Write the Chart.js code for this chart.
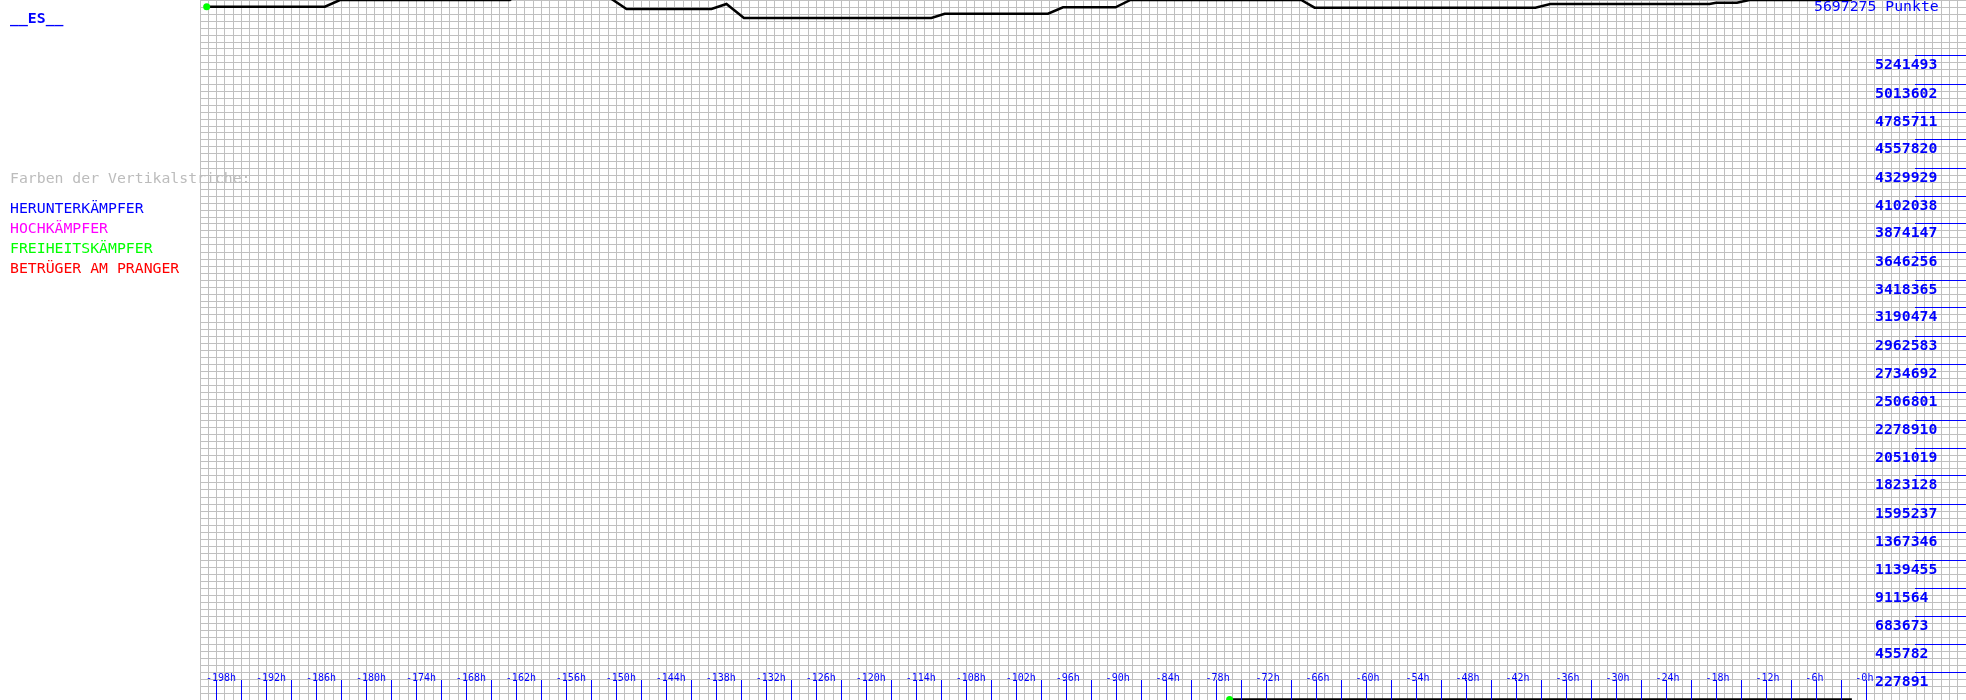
<!DOCTYPE html>
<html>
<head>
<meta charset="utf-8">
<script src="https://cdn.jsdelivr.net/npm/chart.js@4.4.1/dist/chart.umd.min.js"></script>
<style>
  html, body { margin: 0; padding: 0; background: #ffffff; }
  #wrap { position: relative; width: 1966px; height: 700px; }
  canvas { display: block; }
</style>
</head>
<body>
<div id="wrap"><canvas id="c" width="1966" height="700"></canvas></div>
<script>
// ---------- data ----------
const seriesAHours  = [-199.2, -185.0, -183.2, -162.8, -162.0, -151.3, -148.8, -138.6, -136.8, -134.7, -112.2, -110.6, -98.2, -96.4, -90.1, -88.3, -67.8, -66.2, -39.7, -37.9, -18.8, -18.0, -15.5, -14.0, -1.7];
const seriesAValues = [5642700, 5642700, 5697275, 5697275, 5738000, 5738000, 5624000, 5624000, 5664700, 5550800, 5550800, 5585800, 5585800, 5637900, 5637900, 5697275, 5697275, 5634600, 5634600, 5664700, 5664700, 5675300, 5675300, 5697275, 5697275];

const seriesBHours  = [-76.4, -1.7];
const seriesBValues = [4000, 4000];

const xTickHours  = [-198, -192, -186, -180, -174, -168, -162, -156, -150, -144, -138, -132, -126, -120, -114, -108, -102, -96, -90, -84, -78, -72, -66, -60, -54, -48, -42, -36, -30, -24, -18, -12, -6, 0];
const xTickLabels = ["-198h", "-192h", "-186h", "-180h", "-174h", "-168h", "-162h", "-156h", "-150h", "-144h", "-138h", "-132h", "-126h", "-120h", "-114h", "-108h", "-102h", "-96h", "-90h", "-84h", "-78h", "-72h", "-66h", "-60h", "-54h", "-48h", "-42h", "-36h", "-30h", "-24h", "-18h", "-12h", "-6h", "-0h"];

const yTickValues = [227891, 455782, 683673, 911564, 1139455, 1367346, 1595237, 1823128, 2051019, 2278910, 2506801, 2734692, 2962583, 3190474, 3418365, 3646256, 3874147, 4102038, 4329929, 4557820, 4785711, 5013602, 5241493];
const yTickLabels = ["227891", "455782", "683673", "911564", "1139455", "1367346", "1595237", "1823128", "2051019", "2278910", "2506801", "2734692", "2962583", "3190474", "3418365", "3646256", "3874147", "4102038", "4329929", "4557820", "4785711", "5013602", "5241493"];

const yMax = 5697275;
const titleText = "__ES__";
const scoreText = "5697275 Punkte";
const legendTitle = "Farben der Vertikalstriche:";
const legendNames  = ["HERUNTERKÄMPFER", "HOCHKÄMPFER", "FREIHEITSKÄMPFER", "BETRÜGER AM PRANGER"];
const legendColors = ["#0000ff", "#ff00ff", "#00ff00", "#ff0000"];

// ---------- chart ----------
const toPts = (xs, ys) => xs.map((x, i) => ({ x: x, y: ys[i] }));
const MONO = '"DejaVu Sans Mono", "Liberation Mono", monospace';
const align = p => Math.round(p - 0.5) + 0.5;

const overlay = {
  id: 'overlay',
  afterDraw(chart) {
    const c = chart.ctx;
    const xs = chart.scales.x, ys = chart.scales.y;
    c.save();
    // x ticks (every 3h) and labels
    c.strokeStyle = '#0000ff';
    c.lineWidth = 1;
    xTickHours.forEach(h => {
      [h, h + 3].forEach(t => {
        if (t > 0) return;
        const px = align(xs.getPixelForValue(t));
        c.beginPath(); c.moveTo(px, 680); c.lineTo(px, 700); c.stroke();
      });
    });
    c.fillStyle = '#0000ff';
    c.font = '10px ' + MONO;
    c.textAlign = 'left';
    c.textBaseline = 'alphabetic';
    xTickHours.forEach((h, i) => {
      const px = xs.getPixelForValue(h);
      c.fillText(xTickLabels[i], px - 10.7, 680.7);
    });
    // y marks and labels
    c.font = 'bold 14.8px ' + MONO;
    yTickValues.forEach((v, i) => {
      const py = align(ys.getPixelForValue(v));
      c.beginPath(); c.moveTo(1915, py); c.lineTo(1966, py); c.stroke();
      c.fillText(yTickLabels[i], 1875, py + 13);
    });
    // title
    c.fillText(titleText, 10, 22.7);
    // score
    c.font = '14.8px ' + MONO;
    c.fillText(scoreText, 1814, 11);
    // legend
    c.fillStyle = '#bcbcbc';
    c.fillText(legendTitle, 10, 183.3);
    legendNames.forEach((n, i) => {
      c.fillStyle = legendColors[i];
      c.fillText(n, 10, 213.3 + i * 20);
    });
    c.restore();
  }
};

const pointR = ctx => ctx.dataIndex === 0 ? 3.5 : 0;

new Chart(document.getElementById('c'), {
  type: 'line',
  data: {
    datasets: [
      { data: toPts(seriesAHours, seriesAValues), borderColor: '#000000', borderWidth: 2.5, tension: 0,
        pointRadius: pointR, pointBackgroundColor: '#00ff00', pointBorderColor: '#00ff00', pointBorderWidth: 0, pointHoverRadius: 0 },
      { data: toPts(seriesBHours, seriesBValues), borderColor: '#000000', borderWidth: 2.5, tension: 0,
        pointRadius: pointR, pointBackgroundColor: '#00ff00', pointBorderColor: '#00ff00', pointBorderWidth: 0, pointHoverRadius: 0 }
    ]
  },
  options: {
    responsive: false,
    animation: false,
    devicePixelRatio: 1,
    events: [],
    layout: { autoPadding: false, padding: { left: 200, right: 0, top: 0, bottom: 0 } },
    plugins: { legend: { display: false }, tooltip: { enabled: false }, title: { display: false } },
    scales: {
      x: { type: 'linear', min: -200, max: 12,
           ticks: { display: false, stepSize: 1 },
           grid: { color: '#c0c0c0', lineWidth: 1, drawTicks: false },
           border: { display: false } },
      y: { type: 'linear', min: 0, max: yMax,
           ticks: { display: false, stepSize: yMax / 100 },
           grid: { color: '#c0c0c0', lineWidth: 1, drawTicks: false },
           border: { display: false } }
    }
  },
  plugins: [overlay]
});
</script>
</body>
</html>
